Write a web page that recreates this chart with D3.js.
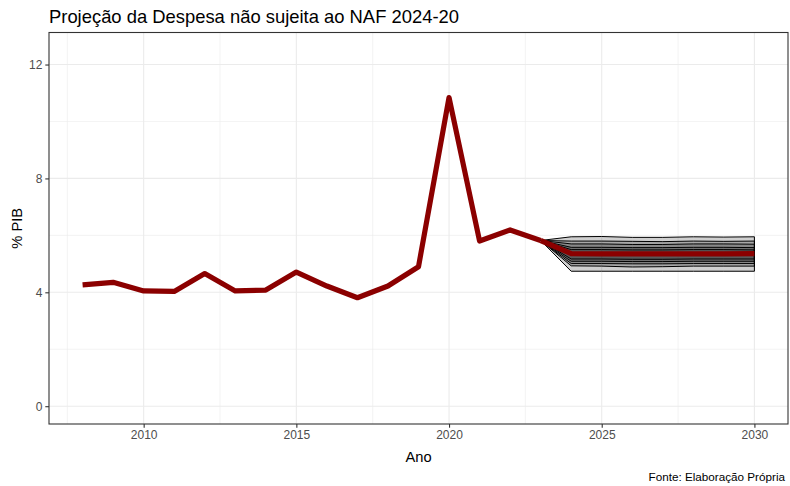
<!DOCTYPE html>
<html>
<head>
<meta charset="utf-8">
<script src="https://cdn.jsdelivr.net/npm/d3@7"></script>
<style>
  body { margin: 0; background: #fff; }
  svg { font-family: "Liberation Sans", Arial, sans-serif; }
</style>
</head>
<body>
<div id="chart"></div>
<script>
// historic series
const anos = [2008, 2009, 2010, 2011, 2012, 2013, 2014, 2015, 2016, 2017, 2018, 2019, 2020, 2021, 2022, 2023];
const despesa = [4.26, 4.35, 4.05, 4.03, 4.66, 4.05, 4.08, 4.71, 4.22, 3.81, 4.22, 4.90, 10.84, 5.80, 6.19, 5.82];

// projection (fan)
const anosProj = [2023, 2024, 2025, 2026, 2027, 2028, 2029, 2030];
const mediana = [5.82, 5.36, 5.35, 5.35, 5.35, 5.35, 5.35, 5.36];
// quantile bands, outer to inner
const bandasSup = [
  [5.82, 5.95, 5.96, 5.93, 5.93, 5.95, 5.94, 5.95],
  [5.82, 5.80, 5.80, 5.79, 5.78, 5.80, 5.79, 5.80],
  [5.82, 5.70, 5.70, 5.68, 5.68, 5.70, 5.70, 5.69],
  [5.82, 5.58, 5.58, 5.57, 5.57, 5.58, 5.58, 5.57],
  [5.82, 5.50, 5.50, 5.49, 5.49, 5.50, 5.50, 5.49]
];
const bandasInf = [
  [5.82, 4.74, 4.74, 4.74, 4.74, 4.74, 4.74, 4.74],
  [5.82, 4.93, 4.92, 4.89, 4.90, 4.92, 4.92, 4.92],
  [5.82, 5.01, 5.01, 5.00, 5.00, 5.01, 5.01, 5.01],
  [5.82, 5.09, 5.09, 5.08, 5.08, 5.09, 5.09, 5.09],
  [5.82, 5.17, 5.17, 5.16, 5.16, 5.17, 5.17, 5.17]
];

const xTicks = [2010, 2015, 2020, 2025, 2030];
const xMinor = [2007.5, 2012.5, 2017.5, 2022.5, 2027.5];
const yTicks = [0, 4, 8, 12];
const yMinor = [2, 6, 10];

const W = 790, H = 486;
const panel = {left: 49, right: 788, top: 32.5, bottom: 424};

const svg = d3.select("#chart").append("svg")
  .attr("width", W)
  .attr("height", H);

const x = d3.scaleLinear().domain([2006.9, 2031.1]).range([panel.left, panel.right]);
const y = d3.scaleLinear().domain([-0.625, 13.125]).range([panel.bottom, panel.top]);

// grid
const grid = svg.append("g");
grid.selectAll(".xmin").data(xMinor).enter().append("line")
  .attr("x1", d => x(d)).attr("x2", d => x(d))
  .attr("y1", panel.top).attr("y2", panel.bottom)
  .attr("stroke", "#ebebeb").attr("stroke-width", 0.6);
grid.selectAll(".ymin").data(yMinor).enter().append("line")
  .attr("x1", panel.left).attr("x2", panel.right)
  .attr("y1", d => y(d)).attr("y2", d => y(d))
  .attr("stroke", "#ebebeb").attr("stroke-width", 0.6);
grid.selectAll(".xmaj").data(xTicks).enter().append("line")
  .attr("x1", d => x(d)).attr("x2", d => x(d))
  .attr("y1", panel.top).attr("y2", panel.bottom)
  .attr("stroke", "#ebebeb").attr("stroke-width", 1.1);
grid.selectAll(".ymaj").data(yTicks).enter().append("line")
  .attr("x1", panel.left).attr("x2", panel.right)
  .attr("y1", d => y(d)).attr("y2", d => y(d))
  .attr("stroke", "#ebebeb").attr("stroke-width", 1.1);

// fan
const fan = svg.append("g");
bandasSup.forEach(function(sup, i) {
  const inf = bandasInf[i];
  const pts = anosProj.map((a, j) => ({ano: a, lo: inf[j], hi: sup[j]}));
  fan.append("path")
    .datum(pts)
    .attr("d", d3.area().x(d => x(d.ano)).y0(d => y(d.lo)).y1(d => y(d.hi)))
    .attr("fill", "#000")
    .attr("fill-opacity", 0.19)
    .attr("stroke", "#000")
    .attr("stroke-width", 1);
});

const linha = d3.line().x(d => x(d[0])).y(d => y(d[1]));

svg.append("path")
  .datum(anosProj.map((a, j) => [a, mediana[j]]))
  .attr("d", linha)
  .attr("fill", "none")
  .attr("stroke", "#8b0000")
  .attr("stroke-width", 5.2)
  .attr("stroke-linejoin", "round");

svg.append("path")
  .datum(anos.map((a, j) => [a, despesa[j]]))
  .attr("d", linha)
  .attr("fill", "none")
  .attr("stroke", "#8b0000")
  .attr("stroke-width", 5.2)
  .attr("stroke-linejoin", "round");

// panel border
svg.append("rect")
  .attr("x", panel.left).attr("y", panel.top)
  .attr("width", panel.right - panel.left).attr("height", panel.bottom - panel.top)
  .attr("fill", "none").attr("stroke", "#333").attr("stroke-width", 1.1);

// axes
const xAxis = svg.append("g")
  .attr("transform", "translate(0," + panel.bottom + ")")
  .call(d3.axisBottom(x).tickValues(xTicks).tickFormat(d3.format("d")).tickSizeInner(3.7).tickSizeOuter(0).tickPadding(3));
const yAxis = svg.append("g")
  .attr("transform", "translate(" + panel.left + ",0)")
  .call(d3.axisLeft(y).tickValues(yTicks).tickSizeInner(3.7).tickSizeOuter(0).tickPadding(3));
[xAxis, yAxis].forEach(function(a) {
  a.select(".domain").remove();
  a.selectAll(".tick line").attr("stroke", "#333").attr("stroke-width", 1.1);
  a.selectAll(".tick text").attr("fill", "#4d4d4d")
    .style("font-size", "12px").style("font-family", "Liberation Sans, Arial, sans-serif");
});

// titles
svg.append("text")
  .attr("x", panel.left).attr("y", 23)
  .style("font-size", "18.4px").attr("fill", "#000")
  .text("Projeção da Despesa não sujeita ao NAF 2024-20");

svg.append("text")
  .attr("x", (panel.left + panel.right) / 2).attr("y", 462)
  .attr("text-anchor", "middle")
  .style("font-size", "14.7px").attr("fill", "#000")
  .text("Ano");

svg.append("text")
  .attr("transform", "translate(22," + ((panel.top + panel.bottom) / 2) + ") rotate(-90)")
  .attr("text-anchor", "middle")
  .style("font-size", "14.7px").attr("fill", "#000")
  .text("% PIB");

svg.append("text")
  .attr("x", 785).attr("y", 481)
  .attr("text-anchor", "end")
  .style("font-size", "11.7px").attr("fill", "#000")
  .text("Fonte: Elaboração Própria");
</script>
</body>
</html>
